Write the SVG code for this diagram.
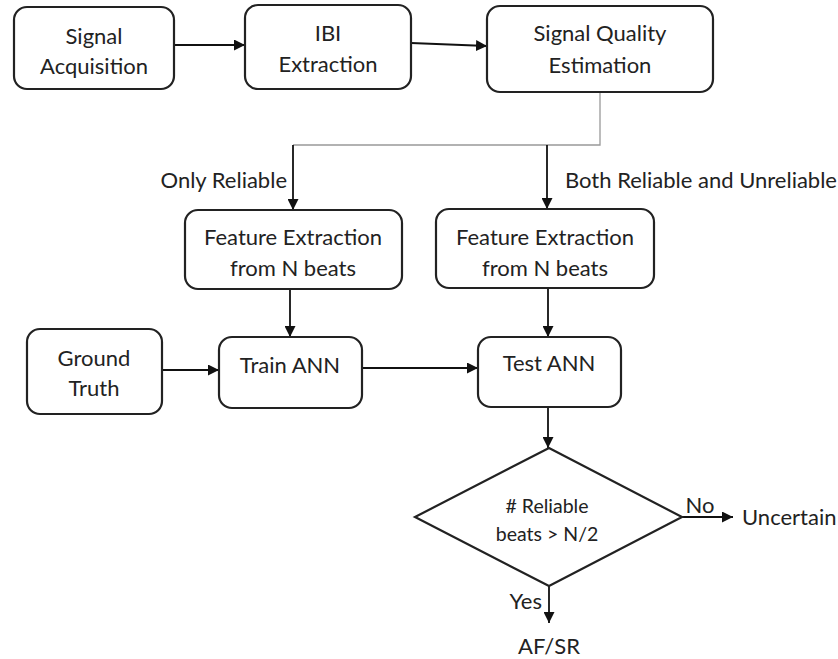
<svg xmlns="http://www.w3.org/2000/svg" width="838" height="659" viewBox="0 0 838 659">
<style>
.box{fill:#fff;stroke:#222;stroke-width:2.2}
.t{font-family:Lato,"Liberation Sans",sans-serif;font-size:22px;fill:#222;text-anchor:middle}
.s{font-size:19.5px}
.st{text-anchor:start}
.en{text-anchor:end}
.c{fill:none;stroke:#111;stroke-width:1.8}
.g{fill:none;stroke:#999;stroke-width:1.3}
</style>
<defs>
<marker id="ah" markerWidth="11" markerHeight="11" refX="11" refY="5.5" orient="auto" markerUnits="userSpaceOnUse">
<path d="M0,0 L11,5.5 L0,11 z" fill="#111"/>
</marker>
</defs>
<rect width="838" height="659" fill="#fff"/>
<g id="connectors">
<line class="c" x1="174" y1="45" x2="245" y2="45" marker-end="url(#ah)"/>
<line class="c" x1="411" y1="43" x2="487" y2="46" marker-end="url(#ah)"/>
<path class="g" d="M600 92 V145 H293"/>
<line class="c" x1="293" y1="145" x2="293" y2="210" marker-end="url(#ah)"/>
<line class="c" x1="547" y1="145" x2="547" y2="209" marker-end="url(#ah)"/>
<line class="c" x1="290" y1="289" x2="290" y2="337" marker-end="url(#ah)"/>
<line class="c" x1="548" y1="288" x2="548" y2="337" marker-end="url(#ah)"/>
<line class="c" x1="162" y1="370" x2="219" y2="370" marker-end="url(#ah)"/>
<line class="c" x1="362" y1="368" x2="478" y2="368" marker-end="url(#ah)"/>
<line class="c" x1="548" y1="407" x2="548" y2="448" marker-end="url(#ah)"/>
<line class="c" x1="682" y1="517" x2="733" y2="517" marker-end="url(#ah)"/>
<line class="c" x1="549" y1="586" x2="549" y2="623" marker-end="url(#ah)"/>
<text class="t en" x="287" y="188">Only Reliable</text>
<text class="t st" x="565" y="188">Both Reliable and Unreliable</text>
<text class="t" x="700" y="513">No</text>
<text class="t st" x="742" y="525">Uncertain</text>
<text class="t en" x="542" y="609">Yes</text>
<text class="t" x="549" y="654">AF/SR</text>
</g>
<g id="signal-acquisition">
<rect class="box" x="14" y="7" width="160" height="82" rx="13"/>
<text class="t" x="94" y="44">Signal</text>
<text class="t" x="94" y="74">Acquisition</text>
</g>
<g id="ibi-extraction">
<rect class="box" x="245" y="5" width="166" height="84" rx="13"/>
<text class="t" x="328" y="41">IBI</text>
<text class="t" x="328" y="72">Extraction</text>
</g>
<g id="signal-quality">
<rect class="box" x="487" y="6" width="226" height="86" rx="13"/>
<text class="t" x="600" y="41">Signal Quality</text>
<text class="t" x="600" y="73">Estimation</text>
</g>
<g id="feature-left">
<rect class="box" x="185" y="210" width="217" height="79" rx="13"/>
<text class="t" x="293" y="245">Feature Extraction</text>
<text class="t" x="293" y="276">from N beats</text>
</g>
<g id="feature-right">
<rect class="box" x="436" y="209" width="218" height="79" rx="13"/>
<text class="t" x="545" y="245">Feature Extraction</text>
<text class="t" x="545" y="276">from N beats</text>
</g>
<g id="ground-truth">
<rect class="box" x="27" y="329" width="135" height="85" rx="13"/>
<text class="t" x="94" y="366">Ground</text>
<text class="t" x="94" y="396">Truth</text>
</g>
<g id="train-ann">
<rect class="box" x="219" y="337" width="143" height="71" rx="13"/>
<text class="t" x="290" y="373">Train ANN</text>
</g>
<g id="test-ann">
<rect class="box" x="478" y="337" width="143" height="70" rx="13"/>
<text class="t" x="549" y="371">Test ANN</text>
</g>
<g id="decision">
<polygon class="box" points="549,448 682,517 549,586 415,517"/>
<text class="t s" x="547" y="513"># Reliable</text>
<text class="t s" x="547" y="541">beats &gt; N/2</text>
</g>
</svg>
